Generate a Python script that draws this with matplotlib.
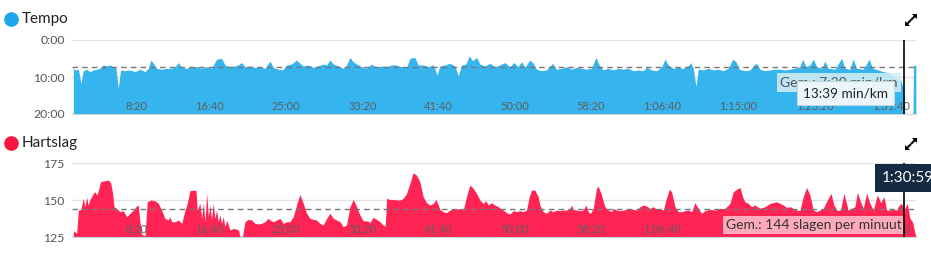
import numpy as np
import matplotlib
matplotlib.use("Agg")
import matplotlib.pyplot as plt
from matplotlib.lines import Line2D
from matplotlib.patches import Polygon

plt.rcParams['font.family'] = ['Lato', 'DejaVu Sans']

#%% Data
# tempo: (seconds, min/km)
tempo = [
    (10, 7.66), (21, 8.1), (43, 7.9), (60, 11.7), (75, 8.3), (97, 7.9), (119, 8.56), (141, 8.1),
    (163, 7.9), (185, 7.66), (207, 6.75), (229, 7.0), (250, 6.75), (272, 7.2), (290, 7.66),
    (305, 13.1), (320, 8.1), (349, 8.3), (382, 8.1), (414, 8.56), (447, 7.9), (480, 8.56),
    (502, 7.66), (519, 5.4), (535, 6.3), (557, 7.66), (590, 7.9), (622, 7.66), (655, 7.66),
    (683, 7.0), (699, 6.1), (721, 7.4), (753, 7.66), (786, 7.2), (819, 7.2), (852, 7.66),
    (885, 7.2), (917, 7.66), (950, 5.2), (983, 4.95), (1005, 6.75), (1038, 7.2), (1071, 7.0),
    (1092, 6.75), (1114, 6.1), (1136, 7.2), (1169, 7.0), (1202, 7.4), (1235, 7.2), (1267, 7.66),
    (1300, 5.7), (1322, 7.4), (1355, 7.9), (1383, 8.1), (1410, 6.75), (1442, 6.5), (1475, 5.4),
    (1497, 6.3), (1519, 7.0), (1552, 6.75), (1585, 7.4), (1617, 7.0), (1650, 6.5), (1672, 6.75),
    (1694, 5.4), (1716, 6.5), (1749, 7.0), (1781, 7.66), (1803, 6.75), (1825, 4.7), (1847, 5.9),
    (1869, 6.5), (1902, 7.2), (1934, 7.66), (1967, 6.5), (2000, 7.4), (2033, 7.0), (2066, 7.2),
    (2098, 6.75), (2131, 6.75), (2164, 7.2), (2197, 7.4), (2219, 4.95), (2251, 4.7), (2273, 6.75),
    (2306, 6.75), (2339, 7.2), (2372, 6.75), (2398, 9.46), (2415, 7.0), (2448, 6.75), (2481, 6.3),
    (2514, 7.0), (2536, 9.73), (2558, 6.75), (2586, 6.5), (2608, 4.3), (2630, 5.6), (2656, 4.7),
    (2678, 6.5), (2711, 7.0), (2744, 6.3), (2776, 7.2), (2809, 6.75), (2842, 6.1), (2875, 7.2),
    (2901, 6.1), (2929, 7.2), (2951, 5.85), (2973, 7.4), (3006, 5.4), (3028, 6.3), (3050, 7.9),
    (3083, 8.3), (3115, 8.1), (3155, 6.3), (3181, 7.9), (3214, 7.66), (3247, 7.2), (3279, 7.9),
    (3312, 7.4), (3345, 7.66), (3378, 7.9), (3411, 7.66), (3439, 4.7), (3461, 6.75), (3487, 8.1),
    (3520, 7.66), (3553, 8.1), (3586, 7.66), (3618, 7.9), (3651, 7.66), (3685, 8.3), (3718, 8.1),
    (3750, 8.3), (3772, 7.4), (3805, 8.1), (3838, 8.3), (3871, 7.2), (3893, 5.2), (3914, 6.75),
    (3947, 7.66), (3980, 7.4), (4013, 7.66), (4046, 7.0), (4061, 6.1), (4079, 7.66), (4096, 12.6),
    (4111, 7.9), (4144, 8.1), (4177, 7.66), (4210, 8.1), (4243, 7.9), (4275, 8.3), (4308, 7.66),
    (4337, 5.2), (4358, 5.85), (4380, 7.9), (4418, 8.3), (4450, 8.1), (4477, 6.75), (4494, 6.3),
    (4516, 7.9), (4549, 8.3), (4582, 8.1), (4614, 7.9), (4647, 7.9), (4680, 8.1), (4713, 7.9),
    (4746, 7.66), (4778, 7.2), (4796, 5.2), (4818, 7.2), (4844, 6.75), (4866, 5.2), (4888, 7.2),
    (4921, 7.66), (4942, 5.7), (4964, 7.66), (5008, 7.9), (5052, 4.95), (5074, 7.66), (5106, 7.9),
    (5128, 5.1), (5150, 7.66), (5194, 7.9), (5233, 5.2), (5255, 7.66), (5292, 8.1), (5325, 8.56),
    (5358, 8.8), (5391, 9.9), (5413, 10.4), (5439, 10.6), (5459, 13.65), (5466, 20.0),
    (5520, 20.0), (5524, 6.8), (5539, 6.8),
]

# hartslag: (seconds, bpm)
hartslag = [
    (10, 129.5), (32, 127.7), (43, 143.4), (60, 143.9), (75, 151.3), (86, 145.7), (97, 152.0),
    (108, 146.8), (119, 150.6), (130, 152.4), (141, 154.7), (152, 155.8), (163, 153.6), (174, 156.5),
    (189, 162.6), (207, 163.0), (240, 163.7), (255, 161.9), (268, 154.7), (277, 145.7), (294, 144.5),
    (316, 142.3), (338, 143.0), (360, 138.9), (382, 141.2), (404, 143.4), (425, 146.1), (436, 146.8),
    (447, 135.5), (458, 127.2), (480, 125.9), (495, 149.0), (517, 150.2), (546, 149.7), (568, 147.9),
    (589, 143.4), (611, 137.8), (633, 136.7), (644, 138.9), (655, 135.5), (677, 135.5), (699, 136.7),
    (721, 134.4), (743, 143.4), (758, 147.9), (775, 156.5), (797, 156.9), (815, 156.5), (823, 143.4),
    (841, 147.9), (852, 137.8), (863, 148.4), (874, 135.5), (885, 154.7), (896, 138.9), (907, 146.8),
    (917, 136.7), (928, 147.9), (939, 137.8), (950, 143.4), (961, 135.5), (972, 140.0), (983, 134.4),
    (994, 138.9), (1005, 132.2), (1016, 136.7), (1038, 129.9), (1060, 131.0), (1082, 130.4),
    (1095, 129.9), (1103, 125.4), (1121, 125.9), (1136, 135.5), (1158, 137.1), (1180, 136.7),
    (1202, 134.4), (1224, 134.0), (1246, 134.4), (1267, 135.5), (1289, 137.8), (1300, 136.7),
    (1322, 135.5), (1344, 136.7), (1366, 137.8), (1388, 134.4), (1410, 135.5), (1431, 135.5),
    (1453, 138.9), (1475, 146.8), (1497, 154.0), (1519, 147.9), (1541, 141.2), (1563, 137.8),
    (1585, 137.1), (1606, 136.7), (1628, 134.4), (1650, 133.3), (1672, 137.8), (1694, 141.2),
    (1716, 137.8), (1738, 136.7), (1760, 135.5), (1781, 132.2), (1803, 133.3), (1825, 145.7),
    (1847, 150.6), (1869, 145.7), (1891, 140.0), (1912, 136.2), (1945, 136.0), (1956, 134.9),
    (1978, 138.5), (2000, 137.1), (2022, 135.5), (2044, 133.3), (2057, 132.6), (2066, 151.3),
    (2087, 150.6), (2109, 150.6), (2131, 150.2), (2153, 150.2), (2175, 151.3), (2197, 154.7),
    (2219, 161.4), (2240, 168.6), (2262, 167.0), (2284, 162.6), (2306, 152.4), (2328, 148.4),
    (2350, 146.8), (2372, 147.9), (2389, 150.6), (2405, 146.8), (2415, 143.9), (2437, 142.3),
    (2459, 141.6), (2481, 143.4), (2503, 143.9), (2525, 143.9), (2547, 144.5), (2569, 143.4),
    (2590, 152.4), (2612, 160.3), (2634, 158.1), (2656, 154.7), (2678, 150.2), (2700, 147.9),
    (2717, 149.7), (2733, 146.8), (2754, 148.4), (2776, 146.8), (2798, 145.7), (2831, 143.4),
    (2853, 141.6), (2875, 140.7), (2897, 143.0), (2919, 142.3), (2940, 143.0), (2962, 142.3),
    (2984, 143.4), (3002, 152.4), (3017, 156.9), (3039, 156.9), (3061, 152.4), (3072, 146.8),
    (3093, 142.3), (3115, 141.2), (3137, 143.4), (3159, 142.3), (3181, 143.4), (3203, 143.0),
    (3225, 143.4), (3247, 143.4), (3268, 144.5), (3279, 146.8), (3290, 143.9), (3312, 143.4),
    (3334, 143.0), (3356, 143.4), (3373, 146.8), (3389, 142.3), (3404, 141.2), (3422, 144.5),
    (3443, 158.1), (3454, 159.6), (3476, 153.6), (3498, 145.7), (3520, 143.4), (3542, 142.3),
    (3553, 144.5), (3575, 143.4), (3597, 143.0), (3618, 143.4), (3640, 143.9), (3662, 144.5),
    (3685, 143.9), (3707, 143.4), (3729, 145.7), (3750, 146.8), (3772, 146.1), (3794, 144.5),
    (3816, 145.7), (3838, 143.9), (3860, 144.5), (3882, 143.4), (3899, 150.2), (3921, 157.4),
    (3936, 155.8), (3958, 145.7), (3980, 142.3), (4002, 142.3), (4024, 143.0), (4046, 143.4),
    (4068, 142.3), (4089, 148.4), (4111, 144.5), (4133, 141.2), (4155, 143.0), (4188, 143.9),
    (4221, 143.4), (4253, 144.5), (4286, 144.5), (4319, 147.9), (4341, 155.8), (4363, 157.4),
    (4385, 158.7), (4402, 152.4), (4417, 149.0), (4439, 147.9), (4461, 145.7), (4483, 146.8),
    (4516, 144.5), (4549, 145.7), (4582, 147.9), (4603, 148.4), (4625, 149.0), (4647, 147.9),
    (4669, 146.8), (4691, 145.2), (4713, 145.7), (4735, 144.5), (4757, 143.4), (4778, 143.0),
    (4800, 152.4), (4822, 158.7), (4844, 153.6), (4866, 143.4), (4888, 142.3), (4910, 143.4),
    (4931, 144.5), (4964, 151.3), (4982, 154.7), (5001, 146.8), (5023, 143.0), (5045, 143.4),
    (5067, 154.7), (5095, 143.4), (5117, 144.5), (5139, 145.7), (5155, 155.4), (5176, 149.0),
    (5194, 144.5), (5216, 154.7), (5238, 147.9), (5260, 143.4), (5286, 153.6), (5308, 148.4),
    (5330, 152.4), (5347, 143.4), (5369, 143.4), (5391, 143.9), (5413, 143.4), (5430, 146.8),
    (5445, 147.9), (5461, 143.4), (5483, 147.9), (5500, 137.8), (5517, 135.5), (5533, 127.7),
    (5539, 126.0),
]

tempo_avg = 7.33          # 7:20 min/km
hartslag_avg = 144
cursor_s = 5459           # 1:30:59

x_ticks = [500, 1000, 1500, 2000, 2500, 3000, 3500, 4000, 4500, 5000, 5500]
x_labels = ['8:20', '16:40', '25:00', '33:20', '41:40', '50:00', '58:20',
            '1:06:40', '1:15:00', '1:23:20', '1:31:40']
tempo_yticks = [0, 10, 20]
tempo_ylabels = ['0:00', '10:00', '20:00']
hr_yticks = [125, 150, 175]
hr_ylabels = ['125', '150', '175']

blue = '#36b4ee'
red = '#ff2454'

#%% Figure
W, H = 931, 261
fig = plt.figure(figsize=(W / 100, H / 100), dpi=100)


def px_axes(x0, y0, x1, y1):
    return fig.add_axes([x0 / W, 1 - y1 / H, (x1 - x0) / W, (y1 - y0) / H])


def style(ax, yticks, ylabels):
    ax.set_xlim(0, 5540)
    ax.set_yticks(yticks, ylabels)
    ax.set_xticks(x_ticks, x_labels)
    for lbl in ax.get_xticklabels():
        lbl.set_ha('right')
    ax.tick_params(axis='x', length=0, pad=-9.5, labelsize=8, labelcolor='#5e5e5e')
    ax.tick_params(axis='y', length=0, pad=5, labelsize=8.8, labelcolor='#555555')
    for s in ['top', 'left', 'right']:
        ax.spines[s].set_visible(False)
    ax.spines['bottom'].set_color('#ccd5da')
    for v in yticks:
        ax.axhline(v, color='#e2e2e2', lw=1, zorder=0.5)


ax1 = px_axes(71.8, 40, 916, 114)
ax2 = px_axes(71.8, 163.3, 916, 237.3)

t1, p1 = np.array(tempo).T
ax1.fill_between(t1, p1, 20, color=blue, lw=0, zorder=1)
ax1.set_ylim(20, 0)
style(ax1, tempo_yticks, tempo_ylabels)
ax1.axhline(tempo_avg, color='#777777', lw=1, ls=(0, (4, 3)), zorder=2)
ax1.axvline(cursor_s, color='black', lw=1.2, zorder=5)
ax1.text(4650, 11.4, 'Gem.: 7:20 min/km', fontsize=10, color='#555555', va='center',
         ha='left', zorder=3,
         bbox=dict(boxstyle='square,pad=0.25', fc='#d6eef6', ec='none', alpha=0.85))
ax1.text(4800, 14.4, '13:39 min/km', fontsize=9.8, color='#222222', va='center',
         ha='left', zorder=4,
         bbox=dict(boxstyle='square,pad=0.45', fc='#eaf6fb', ec='#c3d6de', lw=0.8))

t2, h2 = np.array(hartslag).T
ax2.fill_between(t2, h2, 125, color=red, lw=0, zorder=1)
ax2.set_ylim(125, 175)
style(ax2, hr_yticks, hr_ylabels)
ax2.axhline(hartslag_avg, color='#777777', lw=1, ls=(0, (4, 3)), zorder=2)
ax2.axvline(cursor_s, color='black', lw=1.2, zorder=5)
ax2.text(4290, 133.3, 'Gem.: 144 slagen per minuut', fontsize=10, color='#333333',
         va='center', ha='left', zorder=3,
         bbox=dict(boxstyle='square,pad=0.2', fc='#ffb9c7', ec='none', alpha=0.9))

# cursor time label, runs off the right edge like in the app
fig.text(882 / W, 1 - 178 / H, '1:30:59', fontsize=11, color='white', va='center',
         ha='left', bbox=dict(boxstyle='square,pad=0.45', fc='#142b43', ec='none'))

# panel headers
for y, name, col in [(19, 'Tempo', '#1ea6ea'), (143, 'Hartslag', '#f7163f')]:
    fig.add_artist(Line2D([11 / W], [1 - y / H], marker='o', ms=9.5, color=col,
                          transform=fig.transFigure))
    fig.text(22 / W, 1 - y / H, name, fontsize=11, color='#222222', va='center', ha='left')
    # expand icon: arrowheads in opposite corners with short shafts
    xc, yc = 911, H - y - 1
    for s in (1, -1):
        fig.add_artist(Polygon([(xc + 6 * s, yc + 6 * s), (xc + 1 * s, yc + 6 * s),
                                (xc + 6 * s, yc + 1 * s)], closed=True, transform=None,
                               fc='black', ec='none'))
        fig.add_artist(Line2D([xc + 0.8 * s, xc + 4 * s], [yc + 0.8 * s, yc + 4 * s],
                              color='black', lw=1.5, transform=None))

plt.savefig('out.png', dpi=100)
